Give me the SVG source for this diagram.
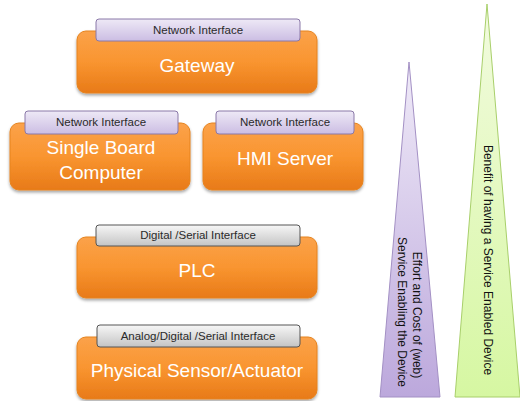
<svg xmlns="http://www.w3.org/2000/svg" width="520" height="401" viewBox="0 0 520 401">
<defs>
<linearGradient id="gOr" x1="0" y1="0" x2="0" y2="1">
<stop offset="0" stop-color="#fba24a"/><stop offset="0.5" stop-color="#f99530"/><stop offset="1" stop-color="#e87a18"/>
</linearGradient>
<linearGradient id="gPu" x1="0" y1="0" x2="0" y2="1">
<stop offset="0" stop-color="#eee9f6"/><stop offset="1" stop-color="#cbbde3"/>
</linearGradient>
<linearGradient id="gGr" x1="0" y1="0" x2="0" y2="1">
<stop offset="0" stop-color="#f7f7f7"/><stop offset="1" stop-color="#c4c4c4"/>
</linearGradient>
<linearGradient id="gTriP" x1="0" y1="0" x2="0" y2="1">
<stop offset="0" stop-color="#f0ebf8"/><stop offset="1" stop-color="#bca8dc"/>
</linearGradient>
<linearGradient id="gTriG" x1="0" y1="0" x2="0" y2="1">
<stop offset="0" stop-color="#f2fbdf"/><stop offset="1" stop-color="#d6f7a2"/>
</linearGradient>
<filter id="sh" x="-10%" y="-10%" width="120%" height="130%">
<feDropShadow dx="0" dy="2" stdDeviation="1.5" flood-color="#000" flood-opacity="0.35"/>
</filter>
</defs>
<style>
.box{fill:url(#gOr);stroke:#e6831e;stroke-width:1;filter:url(#sh)}
.tabP{fill:url(#gPu);stroke:#8a78a8;stroke-width:1}
.tabG{fill:url(#gGr);stroke:#555;stroke-width:1}
.big{font-family:"Liberation Sans",Arial,sans-serif;font-size:19px;fill:#fff;text-anchor:middle;dominant-baseline:central}
.sm{font-family:"Liberation Sans",Arial,sans-serif;font-size:11.5px;fill:#2a2a2a;text-anchor:middle;dominant-baseline:central}
.rot{font-family:"Liberation Sans",Arial,sans-serif;font-size:12px;fill:#111;text-anchor:middle;dominant-baseline:central}
</style>

<g id="effort-triangle">
<polygon points="409,62 440,397 380,397" fill="url(#gTriP)" stroke="#a390c4" stroke-width="1"/>
<text class="rot" transform="translate(417,315) rotate(90)">Effort and Cost of (web)</text>
<text class="rot" transform="translate(402,312) rotate(90)">Service Enabling the Device</text>
</g>
<g id="benefit-triangle">
<polygon points="487,4 520,397 455,397" fill="url(#gTriG)" stroke="#a8cf6a" stroke-width="1"/>
<text class="rot" transform="translate(488,260) rotate(90)">Benefit of having a Service Enabled Device</text>
</g>

<g id="gateway">
<rect class="box" x="77" y="31" width="240" height="62" rx="9"/>
<rect class="tabP" x="96" y="19" width="204" height="22" rx="3"/>
<text class="sm" x="198" y="30">Network Interface</text>
<text class="big" x="197" y="65">Gateway</text>
</g>

<g id="single-board-computer">
<rect class="box" x="10" y="123" width="180" height="67" rx="9"/>
<rect class="tabP" x="25" y="111" width="153" height="23" rx="3"/>
<text class="sm" x="101" y="122">Network Interface</text>
<text class="big" x="101" y="147">Single Board</text>
<text class="big" x="101" y="172">Computer</text>
</g>

<g id="hmi-server">
<rect class="box" x="203" y="123" width="160" height="67" rx="9"/>
<rect class="tabP" x="216" y="111" width="138" height="23" rx="3"/>
<text class="sm" x="285" y="122">Network Interface</text>
<text class="big" x="285" y="158">HMI Server</text>
</g>

<g id="plc">
<rect class="box" x="77" y="237" width="240" height="61" rx="9"/>
<rect class="tabG" x="96" y="225" width="204" height="21" rx="3"/>
<text class="sm" x="198" y="235">Digital /Serial Interface</text>
<text class="big" x="197" y="270">PLC</text>
</g>

<g id="physical-sensor">
<rect class="box" x="77" y="337" width="240" height="62" rx="9"/>
<rect class="tabG" x="97" y="325" width="203" height="22" rx="3"/>
<text class="sm" x="198" y="336">Analog/Digital /Serial Interface</text>
<text class="big" x="197" y="370">Physical Sensor/Actuator</text>
</g>

<g id="connectors"></g>
</svg>
